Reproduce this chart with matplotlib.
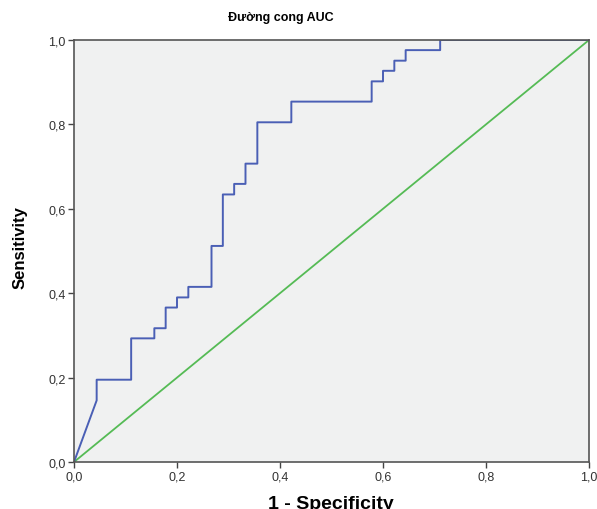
import numpy as np
import matplotlib.pyplot as plt
from matplotlib.ticker import FuncFormatter

plt.rcParams['font.family'] = ['Liberation Sans', 'DejaVu Sans']

# ROC curve points (1 - specificity, sensitivity)
fpr = [0.0, 0.044, 0.044, 0.111, 0.111, 0.156, 0.156, 0.178, 0.178, 0.200, 0.200,
       0.222, 0.222, 0.267, 0.267, 0.289, 0.289, 0.311, 0.311, 0.333, 0.333,
       0.356, 0.356, 0.422, 0.422, 0.578, 0.578, 0.600, 0.600, 0.622, 0.622,
       0.644, 0.644, 0.711, 0.711, 1.0]
tpr = [0.0, 0.146, 0.195, 0.195, 0.293, 0.293, 0.317, 0.317, 0.366, 0.366, 0.390,
       0.390, 0.415, 0.415, 0.512, 0.512, 0.634, 0.634, 0.659, 0.659, 0.707,
       0.707, 0.805, 0.805, 0.854, 0.854, 0.902, 0.902, 0.927, 0.927, 0.951,
       0.951, 0.976, 0.976, 1.0, 1.0]
ref_line = [0.0, 1.0]
ticks = [0.0, 0.2, 0.4, 0.6, 0.8, 1.0]

fig = plt.figure(figsize=(5.97, 5.10), dpi=100)
ax = fig.add_axes([74 / 597, 47 / 510, 515 / 597, 422 / 510])
ax.set_facecolor('#f0f1f1')

ax.plot(ref_line, ref_line, color='#55bb55', lw=1.3)
ax.plot(fpr, tpr, color='#4a5fb5', lw=1.4)

ax.set_xlim(0, 1)
ax.set_ylim(0, 1)
ax.set_xticks(ticks)
ax.set_yticks(ticks)
fmt = FuncFormatter(lambda v, p: f"{v:.1f}".replace('.', ','))
ax.xaxis.set_major_formatter(fmt)
ax.yaxis.set_major_formatter(fmt)
ax.tick_params(direction='out', length=4, width=1, colors='#444444',
               labelsize=9, labelcolor='#333333', pad=2)
for s in ax.spines.values():
    s.set_color('#555555')
    s.set_linewidth(1.2)

fig.text(281 / 597, 1 - 18 / 510, 'Đường cong AUC', ha='center', va='center',
         fontsize=9, fontweight='bold')
# x label sits partly below the bottom edge, as in the original export
fig.text(331 / 597, 1 - 509 / 510, '1 - Specificity', ha='center',
         va='baseline', fontsize=14, fontweight='bold')
fig.text(20 / 597, 1 - 248 / 510, 'Sensitivity', ha='center', va='center',
         fontsize=12, fontweight='bold', rotation=90)

plt.savefig('out.png', dpi=100)
